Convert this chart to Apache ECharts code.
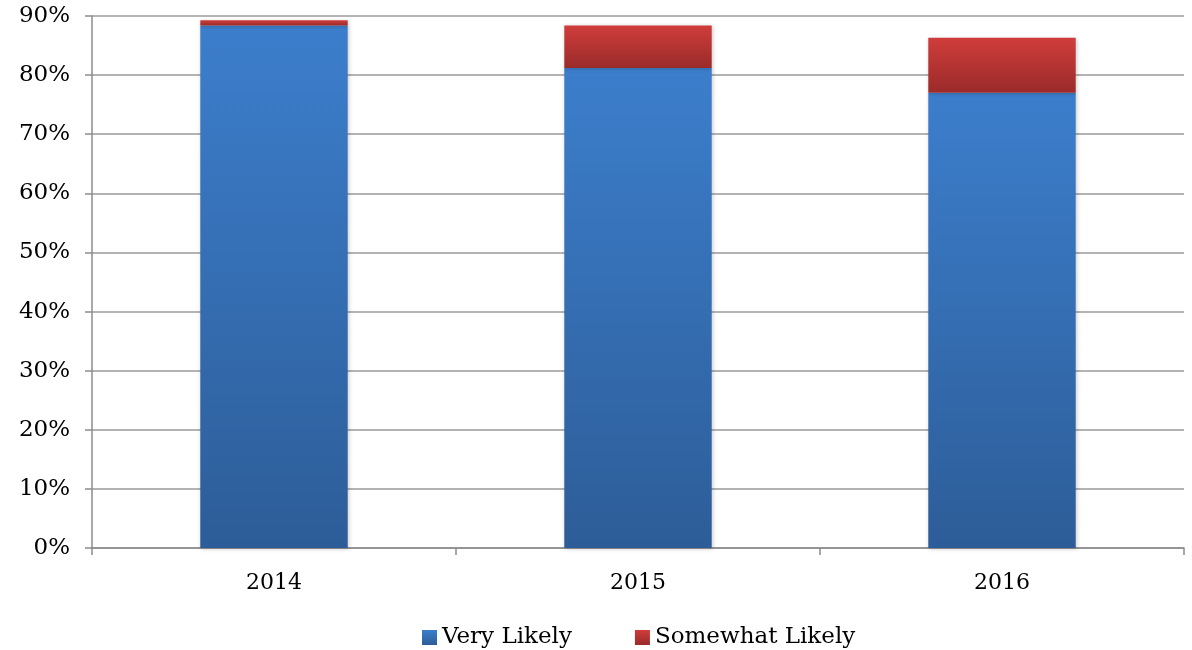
<!DOCTYPE html>
<html>
<head>
<meta charset="utf-8">
<script src="https://cdn.jsdelivr.net/npm/echarts@6/dist/echarts.min.js"></script>
<style>
  html, body { margin: 0; padding: 0; background: #fff; }
  #chart { width: 1192px; height: 650px; }
</style>
</head>
<body>
<div id="chart"></div>
<script>
// Survey share by year, in percent
const years = ['2014', '2015', '2016'];
const veryLikely = [88.4, 81.2, 77.0];
const somewhatLikely = [0.9, 7.2, 9.3];
const yTicks = { min: 0, max: 90, step: 10 };

const FONT = '"DejaVu Serif", "Liberation Serif", serif';

function vGrad(top, bottom) {
  return new echarts.graphic.LinearGradient(0, 0, 0, 1, [
    { offset: 0, color: top },
    { offset: 1, color: bottom }
  ]);
}

const chart = echarts.init(document.getElementById('chart'), null, { renderer: 'canvas' });
chart.setOption({
  animation: false,
  backgroundColor: '#ffffff',
  grid: { left: 92, right: 8, top: 16, bottom: 102, containLabel: false },
  legend: {
    top: 621,
    left: 417,
    itemWidth: 15,
    itemHeight: 15,
    itemGap: 63,
    icon: 'rect',
    textStyle: { fontFamily: FONT, fontSize: 23, color: '#000' },
    data: ['Very Likely', 'Somewhat Likely']
  },
  xAxis: {
    type: 'category',
    data: years,
    axisLine: { lineStyle: { color: '#8c8c8c', width: 1.5 } },
    axisTick: { show: true, length: 7, lineStyle: { color: '#8c8c8c', width: 1.5 } },
    axisLabel: { fontFamily: FONT, fontSize: 22, color: '#000', margin: 24 }
  },
  yAxis: {
    type: 'value',
    min: yTicks.min,
    max: yTicks.max,
    interval: yTicks.step,
    axisLine: { show: true, lineStyle: { color: '#8c8c8c', width: 1.5 } },
    axisTick: { show: true, length: 7, lineStyle: { color: '#8c8c8c', width: 1.5 } },
    splitLine: { lineStyle: { color: '#9a9a9a', width: 1.5 } },
    axisLabel: {
      fontFamily: FONT, fontSize: 23, color: '#000', margin: 22,
      formatter: v => v + '%'
    }
  },
  series: [
    {
      name: 'Very Likely',
      type: 'bar',
      stack: 'total',
      barWidth: '40.5%',
      data: veryLikely,
      itemStyle: {
        color: vGrad('#3c7ecc', '#2d5d98'),
        shadowBlur: 4,
        shadowColor: 'rgba(0,0,0,0.2)',
        shadowOffsetX: 1,
        shadowOffsetY: 1
      }
    },
    {
      name: 'Somewhat Likely',
      type: 'bar',
      stack: 'total',
      barWidth: '40.5%',
      data: somewhatLikely,
      itemStyle: {
        color: vGrad('#cf3d3b', '#9a2b2a'),
        shadowBlur: 4,
        shadowColor: 'rgba(0,0,0,0.2)',
        shadowOffsetX: 1,
        shadowOffsetY: 1
      }
    }
  ]
});
</script>
</body>
</html>
